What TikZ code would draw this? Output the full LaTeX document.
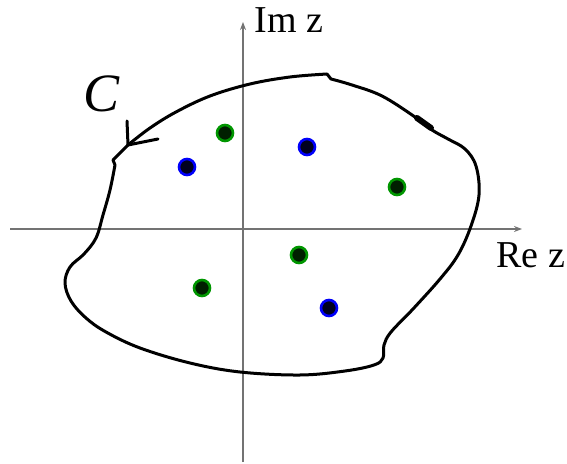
\documentclass[tikz,border=0pt]{standalone}
\usepackage{fontspec}
\setmainfont{Liberation Serif}
\usetikzlibrary{arrows.meta}
\definecolor{ringgreen}{RGB}{0,150,0}
\definecolor{ringblue}{RGB}{0,0,250}
\tikzset{
  axis/.style={draw=black!55, line width=0.75pt, -{Stealth[length=4pt,width=3pt]}},
  contour/.style={line width=1.5pt, line join=round},
  gdot/.style={circle, draw=ringgreen, fill=black!88!green, line width=1.3pt, minimum size=8pt, inner sep=0pt},
  bdot/.style={circle, draw=ringblue, fill=black!88!blue, line width=1.3pt, minimum size=8pt, inner sep=0pt},
  lbl/.style={font=\fontsize{19}{22}\selectfont, inner sep=0pt}
}
\begin{document}
\begin{tikzpicture}[x=0.5pt, y=-0.5pt]
\useasboundingbox (0,0) rectangle (567,464);
% axes
\coordinate (ybot) at (243,462);
\coordinate (ytop) at (243,22);
\coordinate (xleft) at (10,229);
\coordinate (xright) at (522,229);
\draw[axis] (ybot) -- (ytop);
\draw[axis] (xleft) -- (xright);
\node[lbl, anchor=west] (imz) at (254,20) {Im z};
\node[lbl, anchor=west] (rez) at (496,255) {Re z};
% the contour C
\coordinate (cj) at (128,145);
\draw[contour] plot[smooth, tension=0.6] coordinates {(115,165) (110,190) (103,215) (96,238) (84,254) (70,267) (65,283) (71,301) (86,318) (106,332) (140,348) (190,363) (240,372) (300,375) (345,371) (374,365) (383,358) (384,345) (391,332) (413,309) (440,279) (458,255) (471,226) (479,195) (476,166) (465,149) (448,139) (432,130) (415,117) (382,96) (352,85) (331,79)}
  -- (327,74)
  -- plot[smooth, tension=0.6] coordinates {(327,74) (290,77) (250,84) (210,96) (176,112) (150,128) (128,145)}
  -- (113,160) -- cycle;
\draw[contour, line cap=round] (cj) -- (127,121);
\draw[contour, line cap=round] (cj) -- (158,139);
\draw[line width=3pt, line cap=round] (417,118) -- (431,128);
\node[inner sep=0pt] (clabel) at (102,94) {\fontsize{27}{30}\selectfont\itshape C};
% poles
\node[gdot] (g1) at (225,133) {};
\node[gdot] (g2) at (397,187) {};
\node[gdot] (g3) at (299,255) {};
\node[gdot] (g4) at (202,288) {};
\node[bdot] (b1) at (187,167) {};
\node[bdot] (b2) at (307,147) {};
\node[bdot] (b3) at (329,308) {};
\end{tikzpicture}
\end{document}
